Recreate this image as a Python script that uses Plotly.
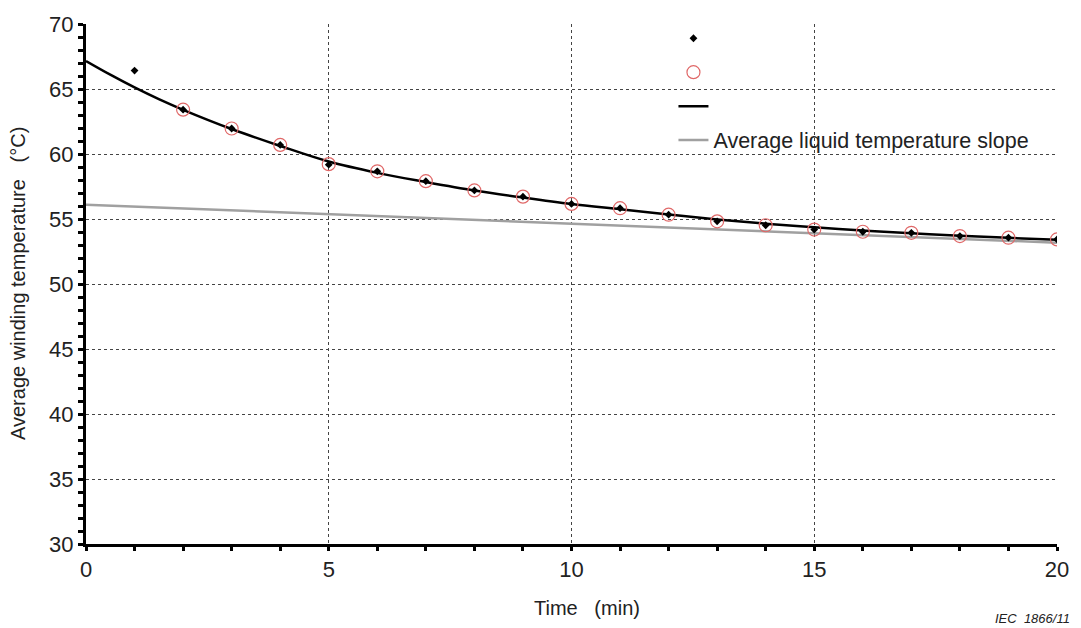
import plotly.graph_objects as go

# ---- data ----
meas_t = [1, 2, 3, 4, 5, 6, 7, 8, 9, 10, 11, 12, 13, 14, 15, 16, 17, 18, 19, 20]
meas_y = [66.42, 63.41, 61.96, 60.70, 59.18, 58.67, 57.91, 57.20, 56.72, 56.16,
          55.83, 55.33, 54.82, 54.52, 54.19, 54.02, 53.94, 53.69, 53.56, 53.43]

fit_pts_t = [2, 3, 4, 5, 6, 7, 8, 9, 10, 11, 12, 13, 14, 15, 16, 17, 18, 19, 20]
fit_pts_y = [63.41, 61.96, 60.70, 59.22, 58.67, 57.91, 57.20, 56.72, 56.16,
             55.83, 55.33, 54.82, 54.52, 54.19, 54.02, 53.94, 53.69, 53.56, 53.43]

curve_t = [0, 0.5, 1, 1.5, 2, 3, 4, 5, 6, 7, 8, 9, 10, 11, 12, 13, 14, 15, 16, 17, 18, 19, 20]
curve_y = [67.15, 66.10, 65.12, 64.22, 63.40, 61.92, 60.62, 59.42, 58.55, 57.85, 57.20,
           56.65, 56.15, 55.75, 55.35, 54.97, 54.64, 54.36, 54.11, 53.90, 53.71, 53.55, 53.40]

liquid_t = [0, 20]
liquid_y = [56.1, 53.18]

x_ticks = [0, 5, 10, 15, 20]
y_ticks = [30, 35, 40, 45, 50, 55, 60, 65, 70]

FONT = "Liberation Sans, Arial, sans-serif"

fig = go.Figure()
fig.add_trace(go.Scatter(
    x=curve_t, y=curve_y, mode="lines", name=" ", legendgroup="c", legendrank=3,
    line=dict(color="black", width=2.5, shape="spline", smoothing=1.0)))
fig.add_trace(go.Scatter(
    x=liquid_t, y=liquid_y, mode="lines", name="Average liquid temperature slope",
    legendgroup="d", legendrank=4, line=dict(color="#a0a0a0", width=2.5)))
fig.add_trace(go.Scatter(
    x=fit_pts_t, y=fit_pts_y, mode="markers", name=" ", legendgroup="b", legendrank=2,
    marker=dict(symbol="circle-open", size=13, color="#e06868", line=dict(width=1.2))))
fig.add_trace(go.Scatter(
    x=meas_t, y=meas_y, mode="markers", name=" ", legendgroup="a", legendrank=1,
    marker=dict(symbol="diamond", size=6, color="black")))

# white box behind the legend (hides gridlines there)
fig.add_shape(type="rect", xref="paper", yref="paper",
              x0=0.641, x1=0.99, y0=0.71, y1=0.995,
              fillcolor="white", line=dict(width=0), layer="between")

fig.update_layout(
    width=1081, height=628,
    margin=dict(l=86, r=17, t=16, b=84),
    paper_bgcolor="white", plot_bgcolor="white",
    font=dict(family=FONT, color="#222", size=20),
    legend=dict(x=0.605, y=1.012, xanchor="left", yanchor="top",
                bgcolor="rgba(0,0,0,0)", borderwidth=0,
                traceorder="grouped", tracegroupgap=3,
                font=dict(size=21.5, family=FONT, color="#222")),
    annotations=[
        dict(text="Time\u00a0\u00a0\u00a0(min)", xref="paper", yref="paper",
             x=0.5, y=0, xanchor="center", yanchor="middle", xshift=15, yshift=-64,
             showarrow=False, font=dict(size=20, family=FONT, color="#222")),
        dict(text="Average winding temperature\u00a0\u00a0\u00a0(°C)", xref="paper", yref="paper",
             x=0, y=0.5, xanchor="center", yanchor="middle", xshift=-68, yshift=0,
             textangle=-90, showarrow=False, font=dict(size=20, family=FONT, color="#222")),
        dict(text="<i>IEC  1866/11</i>", xref="paper", yref="paper",
             x=1.0, y=-0.125, xanchor="right", yanchor="top", xshift=15,
             showarrow=False, font=dict(size=13, family=FONT, color="#222")),
    ],
)

fig.update_xaxes(
    range=[0, 20], tickvals=x_ticks, ticktext=[str(v) for v in x_ticks],
    showline=True, linecolor="black", linewidth=3,
    ticks="outside", ticklen=4, tickwidth=3, tickcolor="black",
    minor=dict(dtick=1, ticks="outside", ticklen=4, tickwidth=3, tickcolor="black", showgrid=False),
    showgrid=True, gridcolor="#444", griddash="dot", gridwidth=1,
    zeroline=False, tickfont=dict(size=22),
)
fig.update_yaxes(
    range=[30, 70], tickvals=y_ticks, ticktext=[str(v) for v in y_ticks],
    showline=True, linecolor="black", linewidth=3,
    ticks="outside", ticklen=5, tickwidth=3, tickcolor="black",
    minor=dict(dtick=1, ticks="outside", ticklen=5, tickwidth=3, tickcolor="black", showgrid=False),
    showgrid=True, gridcolor="#444", griddash="dot", gridwidth=1,
    zeroline=False, tickfont=dict(size=22),
)

fig.write_html("out.html")
